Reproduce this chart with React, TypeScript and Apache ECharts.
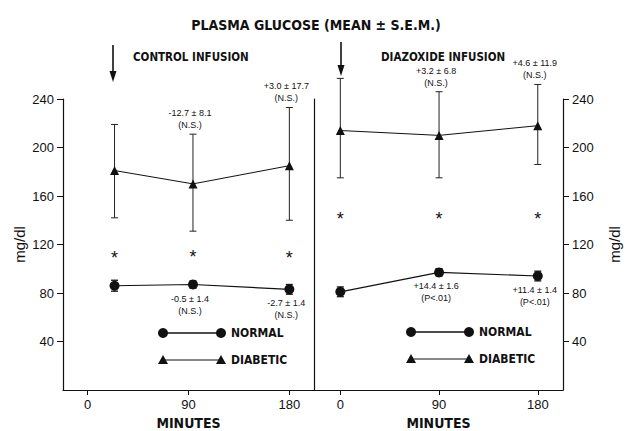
import React, { useEffect, useRef } from "react";
import * as echarts from "echarts";

// ---- data ----
const xTicks = [0, 90, 180];
const yTicks = [40, 80, 120, 160, 200, 240];

const minutesControl = [24, 94, 180];
const minutesDiazoxide = [0, 90, 180];

const controlNormal = [86, 87, 83];
const controlNormalSem = [4.5, 3, 4];
const controlDiabetic = [181, 170, 185];
const controlDiabeticLow = [142, 131, 140];
const controlDiabeticHigh = [219, 211, 233];
const controlAsterisk = [113, 114, 113];

const diazNormal = [81, 97, 94];
const diazNormalSem = [4, 3, 4];
const diazDiabetic = [214, 210, 218];
const diazDiabeticLow = [175, 175, 186];
const diazDiabeticHigh = [257, 246, 252];
const diazAsterisk = [145, 145, 145];

const controlDiabeticNotes = ["", "-12.7 ± 8.1\n(N.S.)", "+3.0 ± 17.7\n(N.S.)"];
const controlNormalNotes = ["", "-0.5 ± 1.4\n(N.S.)", "-2.7 ± 1.4\n(N.S.)"];
const diazDiabeticNotes = ["", "+3.2 ± 6.8\n(N.S.)", "+4.6 ± 11.9\n(N.S.)"];
const diazNormalNotes = ["", "+14.4 ± 1.6\n(P<.01)", "+11.4 ± 1.4\n(P<.01)"];

const legendItems = ["NORMAL", "DIABETIC"];

const FONT_LIGHT = "'Liberation Sans', 'DejaVu Sans', sans-serif";
const FONT_BOLD = "'DejaVu Sans Condensed', 'Liberation Sans Narrow', 'DejaVu Sans', sans-serif";
const INK = "#111";

function errorSeries(gi: number, xs: number[], lows: number[], highs: number[], width: number) {
  return {
    type: "custom",
    xAxisIndex: gi,
    yAxisIndex: gi,
    z: 2,
    silent: true,
    clip: false,
    data: xs.map((x, i) => [x, lows[i], highs[i]]),
    renderItem: (params: any, api: any) => {
      const x = api.value(0);
      const top = api.coord([x, api.value(2)]);
      const bot = api.coord([x, api.value(1)]);
      const w = 3.5;
      const style = { stroke: "#222", lineWidth: width };
      return {
        type: "group",
        children: [
          { type: "line", shape: { x1: top[0], y1: top[1], x2: bot[0], y2: bot[1] }, style },
          { type: "line", shape: { x1: top[0] - w, y1: top[1], x2: top[0] + w, y2: top[1] }, style },
          { type: "line", shape: { x1: bot[0] - w, y1: bot[1], x2: bot[0] + w, y2: bot[1] }, style },
        ],
      };
    },
  };
}

function noteSeries(gi: number, xs: number[], anchors: number[], notes: string[], above: boolean) {
  const texts: string[] = [];
  const data: number[][] = [];
  notes.forEach((t, i) => {
    if (t) {
      texts.push(t);
      data.push([xs[i], anchors[i]]);
    }
  });
  return {
    type: "custom",
    xAxisIndex: gi,
    yAxisIndex: gi,
    silent: true,
    clip: false,
    z: 3,
    data,
    renderItem: (params: any, api: any) => {
      const p = api.coord([api.value(0), api.value(1)]);
      return {
        type: "text",
        style: {
          text: texts[params.dataIndex],
          x: p[0] - 3,
          y: above ? p[1] - 3 : p[1] + 8,
          align: "center",
          verticalAlign: above ? "bottom" : "top",
          fontSize: 9,
          lineHeight: 12,
          fontFamily: FONT_LIGHT,
          fill: INK,
        },
      };
    },
  };
}

function asteriskSeries(gi: number, xs: number[], ys: number[]) {
  return {
    type: "custom",
    xAxisIndex: gi,
    yAxisIndex: gi,
    silent: true,
    z: 3,
    data: xs.map((x, i) => [x, ys[i]]),
    renderItem: (params: any, api: any) => {
      const p = api.coord([api.value(0), api.value(1)]);
      return {
        type: "text",
        style: {
          text: "*",
          x: p[0],
          y: p[1] + 5,
          align: "center",
          verticalAlign: "middle",
          fontSize: 18,
          fontFamily: FONT_LIGHT,
          fill: INK,
        },
      };
    },
  };
}

function lineSeries(name: string, gi: number, xs: number[], ys: number[], symbol: string, size: number, width: number) {
  return {
    name,
    type: "line",
    xAxisIndex: gi,
    yAxisIndex: gi,
    z: 4,
    symbol,
    symbolSize: size,
    showSymbol: true,
    data: xs.map((x, i) => [x, ys[i]]),
    lineStyle: { color: INK, width },
    itemStyle: { color: INK },
  };
}

function legendGraphic(x0: number, y0: number) {
  const children: any[] = [];
  const x1 = x0;
  const x2 = x0 + 58;
  legendItems.forEach((name, i) => {
    const y = y0 + i * 27;
    children.push({
      type: "line",
      shape: { x1, y1: y, x2, y2: y },
      style: { stroke: INK, lineWidth: i === 0 ? 1.5 : 1 },
    });
    if (i === 0) {
      children.push({ type: "circle", shape: { cx: x1, cy: y, r: 5 }, style: { fill: INK } });
      children.push({ type: "circle", shape: { cx: x2, cy: y, r: 5 }, style: { fill: INK } });
    } else {
      [x1, x2].forEach((cx) =>
        children.push({
          type: "polygon",
          shape: { points: [[cx, y - 5], [cx - 5, y + 4], [cx + 5, y + 4]] },
          style: { fill: INK },
        })
      );
    }
    children.push({
      type: "text",
      style: {
        text: name,
        x: x2 + 10,
        y,
        verticalAlign: "middle",
        fontSize: 12,
        fontWeight: "bold",
        fontFamily: FONT_BOLD,
        fill: INK,
      },
    });
  });
  return { type: "group", children };
}

function arrowGraphic(x: number, y1: number, y2: number) {
  return {
    type: "group",
    children: [
      { type: "line", shape: { x1: x, y1, x2: x, y2: y2 - 4 }, style: { stroke: INK, lineWidth: 1.6 } },
      { type: "polygon", shape: { points: [[x - 3.5, y2 - 11], [x + 3.5, y2 - 11], [x, y2]] }, style: { fill: INK } },
    ],
  };
}

const xAxisBase = (gi: number, min: number, max: number) => ({
  type: "value",
  gridIndex: gi,
  min,
  max,
  name: "MINUTES",
  nameLocation: "middle",
  nameGap: 25,
  nameTextStyle: { fontSize: 14, fontWeight: "bold", fontFamily: FONT_BOLD, color: INK },
  axisLine: { onZero: false, lineStyle: { color: INK, width: 1.2 } },
  axisTick: { customValues: xTicks, length: 5, lineStyle: { color: INK } },
  axisLabel: { customValues: xTicks, margin: 8, fontSize: 13, fontFamily: FONT_LIGHT, color: INK },
  splitLine: { show: false },
});

const yAxisBase = (gi: number, position: string) => ({
  type: "value",
  gridIndex: gi,
  position,
  min: 0,
  max: 240,
  name: "mg/dl",
  nameLocation: "middle",
  nameRotate: 90,
  nameGap: position === "left" ? 36 : 44,
  nameTextStyle: { fontSize: 15, fontFamily: FONT_LIGHT, color: INK },
  axisLine: { show: true, onZero: false, lineStyle: { color: INK, width: 1.2 } },
  axisTick: { show: true, customValues: yTicks, length: 6, lineStyle: { color: INK } },
  axisLabel: { customValues: yTicks, margin: 9, fontSize: 13, fontFamily: FONT_LIGHT, color: INK },
  splitLine: { show: false },
});

export default function App() {
  const ref = useRef<HTMLDivElement>(null);
  useEffect(() => {
    if (!ref.current) return;
    const chart = echarts.init(ref.current, null, { renderer: "svg" });
    const option: any = {
      animation: false,
      backgroundColor: "#fff",
      title: [
        {
          text: "PLASMA GLUCOSE (MEAN ± S.E.M.)",
          left: "center",
          top: 13,
          textStyle: { fontSize: 14, fontWeight: "bold", fontFamily: FONT_BOLD, color: INK },
        },
        {
          text: "CONTROL INFUSION",
          left: 133,
          top: 51,
          padding: 0,
          textStyle: { fontSize: 11.5, fontWeight: "bold", fontFamily: FONT_BOLD, color: INK },
        },
        {
          text: "DIAZOXIDE INFUSION",
          left: 381,
          top: 51,
          padding: 0,
          textStyle: { fontSize: 11.5, fontWeight: "bold", fontFamily: FONT_BOLD, color: INK },
        },
      ],
      grid: [
        { left: 63, top: 99, width: 251, height: 291, outerBoundsMode: "none", containLabel: false },
        { left: 314, top: 99, width: 249, height: 291, outerBoundsMode: "none", containLabel: false },
      ],
      xAxis: [xAxisBase(0, -22, 202), xAxisBase(1, -24, 203)],
      yAxis: [
        yAxisBase(0, "left"),
        yAxisBase(1, "right"),
        {
          type: "value",
          gridIndex: 0,
          position: "right",
          min: 0,
          max: 240,
          axisLine: { show: true, onZero: false, lineStyle: { color: INK, width: 1.2 } },
          axisTick: { show: false },
          axisLabel: { show: false },
          splitLine: { show: false },
        },
      ],
      graphic: [
        arrowGraphic(113, 45, 82),
        arrowGraphic(341, 42, 76),
        legendGraphic(163, 333),
        legendGraphic(411, 332),
      ],
      series: [
        errorSeries(0, minutesControl, controlDiabeticLow, controlDiabeticHigh, 1),
        errorSeries(0, minutesControl, controlNormal.map((v, i) => v - controlNormalSem[i]), controlNormal.map((v, i) => v + controlNormalSem[i]), 1.4),
        errorSeries(1, minutesDiazoxide, diazDiabeticLow, diazDiabeticHigh, 1),
        errorSeries(1, minutesDiazoxide, diazNormal.map((v, i) => v - diazNormalSem[i]), diazNormal.map((v, i) => v + diazNormalSem[i]), 1.4),
        lineSeries("Diabetic (control)", 0, minutesControl, controlDiabetic, "triangle", 9, 1),
        lineSeries("Normal (control)", 0, minutesControl, controlNormal, "circle", 10, 1.2),
        lineSeries("Diabetic (diazoxide)", 1, minutesDiazoxide, diazDiabetic, "triangle", 9, 1),
        lineSeries("Normal (diazoxide)", 1, minutesDiazoxide, diazNormal, "circle", 10, 1.2),
        asteriskSeries(0, minutesControl, controlAsterisk),
        asteriskSeries(1, minutesDiazoxide, diazAsterisk),
        noteSeries(0, minutesControl, controlDiabeticHigh, controlDiabeticNotes, true),
        noteSeries(0, minutesControl, controlNormal, controlNormalNotes, false),
        noteSeries(1, minutesDiazoxide, diazDiabeticHigh, diazDiabeticNotes, true),
        noteSeries(1, minutesDiazoxide, diazNormal, diazNormalNotes, false),
      ],
    };
    chart.setOption(option);
    return () => chart.dispose();
  }, []);
  return (
    <div
      ref={ref}
      style={{ position: "absolute", left: 0, top: 0, width: 632, height: 431, background: "#fff" }}
    />
  );
}
